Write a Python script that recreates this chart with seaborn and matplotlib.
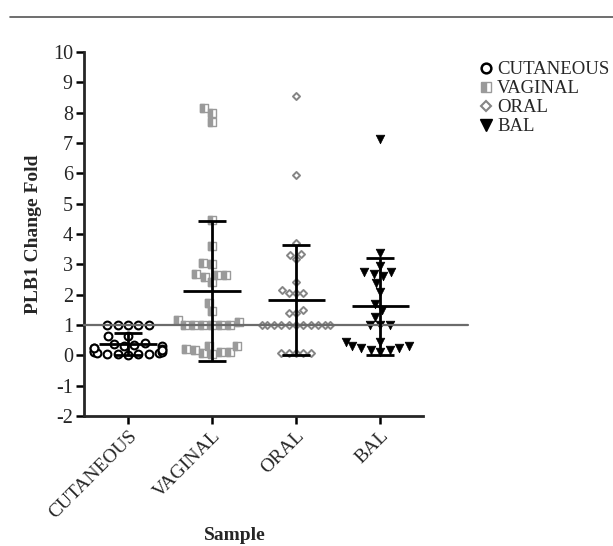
import numpy as np
import pandas as pd
import matplotlib
matplotlib.use("Agg")
import matplotlib.pyplot as plt
from matplotlib.lines import Line2D
from matplotlib.path import Path
from matplotlib.markers import MarkerStyle
import seaborn as sns

categories = ["CUTANEOUS", "VAGINAL", "ORAL", "BAL"]

cutaneous = [1.0, 1.0, 1.0, 1.0, 1.0, 0.65, 0.65,
             0.4, 0.35, 0.3, 0.25, 0.2, 0.15, 0.1, 0.07, 0.05, 0.03, 0.02,
             0.03, 0.05, 0.08, 0.12, 0.18, 0.25, 0.32, 0.38]
vaginal = [8.0, 7.7, 8.15, 4.45, 3.6, 3.0, 3.05, 2.65, 2.58, 2.42, 2.65, 2.68,
           1.73, 1.46, 1.15, 1.0, 1.0, 1.0, 1.0, 1.0, 1.0, 1.1,
           0.3, 0.2, 0.12, 0.08, 0.03, 0.1, 0.18, 0.3]
oral = [8.55, 5.95, 3.7, 3.31, 3.18, 3.34, 2.42, 2.15, 2.05, 2.05, 2.05,
        1.5, 1.4, 1.4, 1.0, 1.0, 1.0, 1.0, 1.0, 1.0, 1.0, 1.0, 1.0, 1.0, 1.0,
        0.08, 0.08, 0.08, 0.08, 0.08]
bal = [7.13, 3.37, 2.95, 2.75, 2.6, 2.68, 2.75, 2.38, 2.1, 1.7, 1.5, 1.27,
       1.0, 1.0, 1.0, 0.45, 0.45, 0.3, 0.25, 0.18, 0.1, 0.18, 0.25, 0.3]
yticks = list(range(-2, 11))

values = [cutaneous, vaginal, oral, bal]
df = pd.DataFrame({
    "Sample": np.repeat(categories, [len(v) for v in values]),
    "Fold": np.concatenate(values),
})

sns.set_style("ticks")
plt.rcParams["font.family"] = ["Liberation Serif", "DejaVu Serif"]

fig = plt.figure(figsize=(6.13, 5.46), dpi=100)
ax = fig.add_axes([0.137, 0.238, 0.553, 0.667])

gray = "#9a9a9a"
# left half of a square, for the half-filled VAGINAL marker
half_sq = MarkerStyle(Path([(-1, -1), (0, -1), (0, 1), (-1, 1), (-1, -1)]))

styles = {
    "CUTANEOUS": dict(marker="o", color="white", edgecolor="black", linewidth=1.5, size=5.6),
    "VAGINAL": dict(marker="s", color="white", edgecolor=gray, linewidth=1.0, size=5.2),
    "ORAL": dict(marker="D", color="white", edgecolor="#858585", linewidth=1.4, size=3.6),
    "BAL": dict(marker="v", color="black", edgecolor="black", linewidth=0.5, size=6.2),
}
for cat in categories:
    sub = df[df["Sample"] == cat]
    sns.swarmplot(data=sub, x="Sample", y="Fold", order=categories, ax=ax, **styles[cat])
    if cat == "VAGINAL":
        sns.swarmplot(data=sub, x="Sample", y="Fold", order=categories, ax=ax,
                      marker=half_sq, color=gray, edgecolor=gray, linewidth=1.0, size=5.2)

# mean +/- SD
for i, cat in enumerate(categories):
    v = np.array(df.loc[df["Sample"] == cat, "Fold"])
    m, sd = v.mean(), v.std(ddof=1)
    ax.hlines(m, i - 0.34, i + 0.34, color="black", lw=2, zorder=4)
    ax.vlines(i, m - sd, m + sd, color="black", lw=2, zorder=4)
    ax.hlines([m - sd, m + sd], i - 0.17, i + 0.17, color="black", lw=2, zorder=4)

ax.plot([-0.524, 4.05], [1, 1], color="#6b6b6b", lw=1.6, clip_on=False, zorder=3)

ax.set_xlim(-0.524, 3.51)
ax.set_ylim(-2, 10)
ax.set_yticks(yticks)
ax.set_yticklabels([str(t) for t in yticks], fontsize=14.5)
ax.set_xticks(range(len(categories)))
ax.set_xticklabels(categories, rotation=45, ha="right", rotation_mode="anchor", fontsize=14)
for s in ["top", "right"]:
    ax.spines[s].set_visible(False)
for s in ["left", "bottom"]:
    ax.spines[s].set_linewidth(2)
ax.tick_params(width=1.8, length=6, color="black", pad=2)

ax.set_ylabel("PLB1 Change Fold", fontsize=14, fontweight="bold")
ax.set_xlabel("Sample", fontsize=14, fontweight="bold")
ax.yaxis.set_label_coords(-0.125, 0.5)
ax.xaxis.set_label_coords(0.445, -0.305)

handles = [
    Line2D([], [], ls="", marker="o", mfc="white", mec="black", mew=1.8, ms=7),
    Line2D([], [], ls="", marker="s", fillstyle="left", mfc=gray, mfcalt="white", mec=gray, mew=1, ms=7),
    Line2D([], [], ls="", marker="D", mfc="white", mec="#858585", mew=1.5, ms=5),
    Line2D([], [], ls="", marker="v", mfc="black", mec="black", ms=8),
]
fig.legend(handles, categories, loc="upper left", bbox_to_anchor=(0.782, 0.888),
           frameon=False, fontsize=13.5, handlelength=0.7, handletextpad=0.25,
           labelspacing=0.1, borderaxespad=0, borderpad=0)

fig.add_artist(Line2D([10 / 613, 1], [1 - 17 / 546] * 2, color="#555555", lw=1.2))

fig.savefig("out.png", dpi=100)
